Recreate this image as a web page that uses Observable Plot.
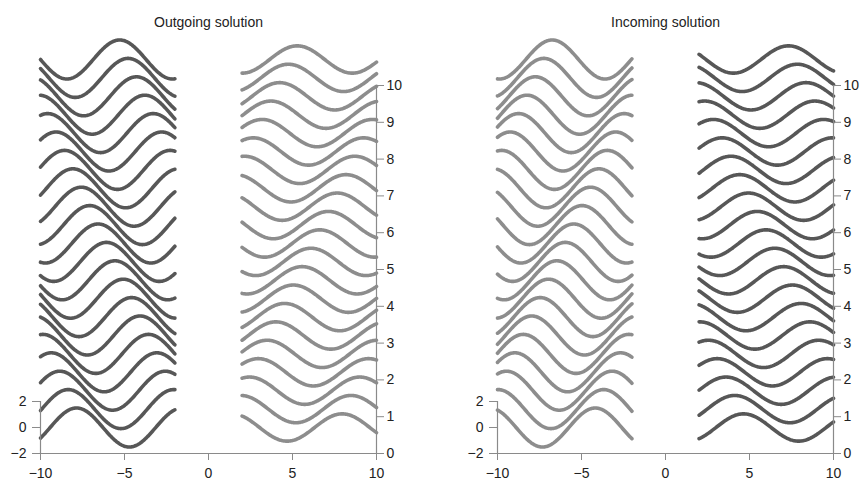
<!DOCTYPE html>
<html>
<head>
<meta charset="utf-8">
<script src="https://cdn.jsdelivr.net/npm/d3@7"></script>
<script src="https://cdn.jsdelivr.net/npm/@observablehq/plot@0.6"></script>
<style>
  html, body { margin: 0; padding: 0; background: #fff; }
  #wrap { display: flex; width: 866px; height: 483px; }
  #wrap svg { font-family: "Liberation Sans", Arial, Helvetica, sans-serif; }
</style>
</head>
<body>
<div id="wrap"></div>
<script>
// ---- data ----
const panelTitles = ["Outgoing solution", "Incoming solution"];
const times = [0, 0.5, 1, 1.5, 2, 2.5, 3, 3.5, 4, 4.5, 5, 5.5, 6, 6.5, 7, 7.5, 8, 8.5, 9, 9.5, 10];
// four wave groups: outgoing-left, outgoing-right, incoming-left, incoming-right
const wavePanel     = [0, 0, 1, 1];
const waveXStart    = [-10, 2, -10, 2];
const waveXEnd      = [-2, 10, -2, 10];
const waveAmplitude = [1.5, 1.05, 1.5, 1.05];
const waveNumber    = [1.0, 0.958, 1.0, 0.958];
const waveTravel    = [-1, 1, 1, -1];      // -1 moves left, +1 moves right
const wavePhase     = [1.571, -1.34, 4.18, -4.45];
const waveShade     = ["dark", "light", "light", "dark"];
const xTicks = [-10, -5, 0, 5, 10];
const tTicks = [0, 1, 2, 3, 4, 5, 6, 7, 8, 9, 10];
const uTicks = [-2, 0, 2];

// ---- presentation ----
const shadeColor = {dark: "#575757", light: "#8d8d8d"};
const uToT = 0.3533;               // one amplitude unit in time-axis units
const fmt = d => (d < 0 ? "\u2212" + Math.abs(d) : String(d));

function panel(p, marginLeft, marginRight) {
  const marks = [];
  wavePanel.forEach((pp, g) => {
    if (pp !== p) return;
    const rows = [];
    const xs = d3.range(waveXStart[g], waveXEnd[g] + 1e-9, 0.04);
    for (const t of times) {
      for (const x of xs) {
        const u = waveAmplitude[g] * Math.cos(waveNumber[g] * x - waveTravel[g] * t + wavePhase[g]);
        rows.push({x, t, y: t + (u + 2) * uToT});
      }
    }
    marks.push(Plot.line(rows, {x: "x", y: "y", z: "t", stroke: shadeColor[waveShade[g]], strokeWidth: 3.6}));
  });
  const uPos = uTicks.map(u => (u + 2) * uToT);
  const uLab = new Map(uPos.map((v, i) => [v, fmt(uTicks[i])]));
  marks.push(
    Plot.ruleY([0], {x1: -10, x2: 10, stroke: "#8a8a8a", strokeWidth: 1.2}),
    Plot.ruleX([10], {y1: 0, y2: 10, stroke: "#8a8a8a", strokeWidth: 1.2}),
    Plot.ruleX([-10], {y1: 0, y2: uPos[uPos.length - 1], stroke: "#8a8a8a", strokeWidth: 1.2}),
    Plot.axisX({ticks: xTicks, tickSize: 7, tickPadding: 8, tickFormat: fmt, fontSize: 14, stroke: "#8a8a8a", color: "#222", label: null}),
    Plot.axisY({anchor: "right", ticks: tTicks, tickSize: 7, tickPadding: 3, tickFormat: fmt, fontSize: 14, stroke: "#8a8a8a", color: "#222", label: null}),
    Plot.axisY({anchor: "left", ticks: uPos, tickSize: 8, tickPadding: 6, tickFormat: d => uLab.get(d), fontSize: 14, stroke: "#8a8a8a", color: "#222", label: null}),
    Plot.text([panelTitles[p]], {x: 0, frameAnchor: "top", dy: -68, fontSize: 14, fill: "#222"})
  );
  return Plot.plot({
    width: 433, height: 483,
    marginLeft, marginRight, marginTop: 85, marginBottom: 30,
    x: {domain: [-10, 10]},
    y: {domain: [0, 10]},
    marks
  });
}

const wrap = document.getElementById("wrap");
wrap.appendChild(panel(0, 40, 57));
wrap.appendChild(panel(1, 64, 33));
</script>
</body>
</html>
